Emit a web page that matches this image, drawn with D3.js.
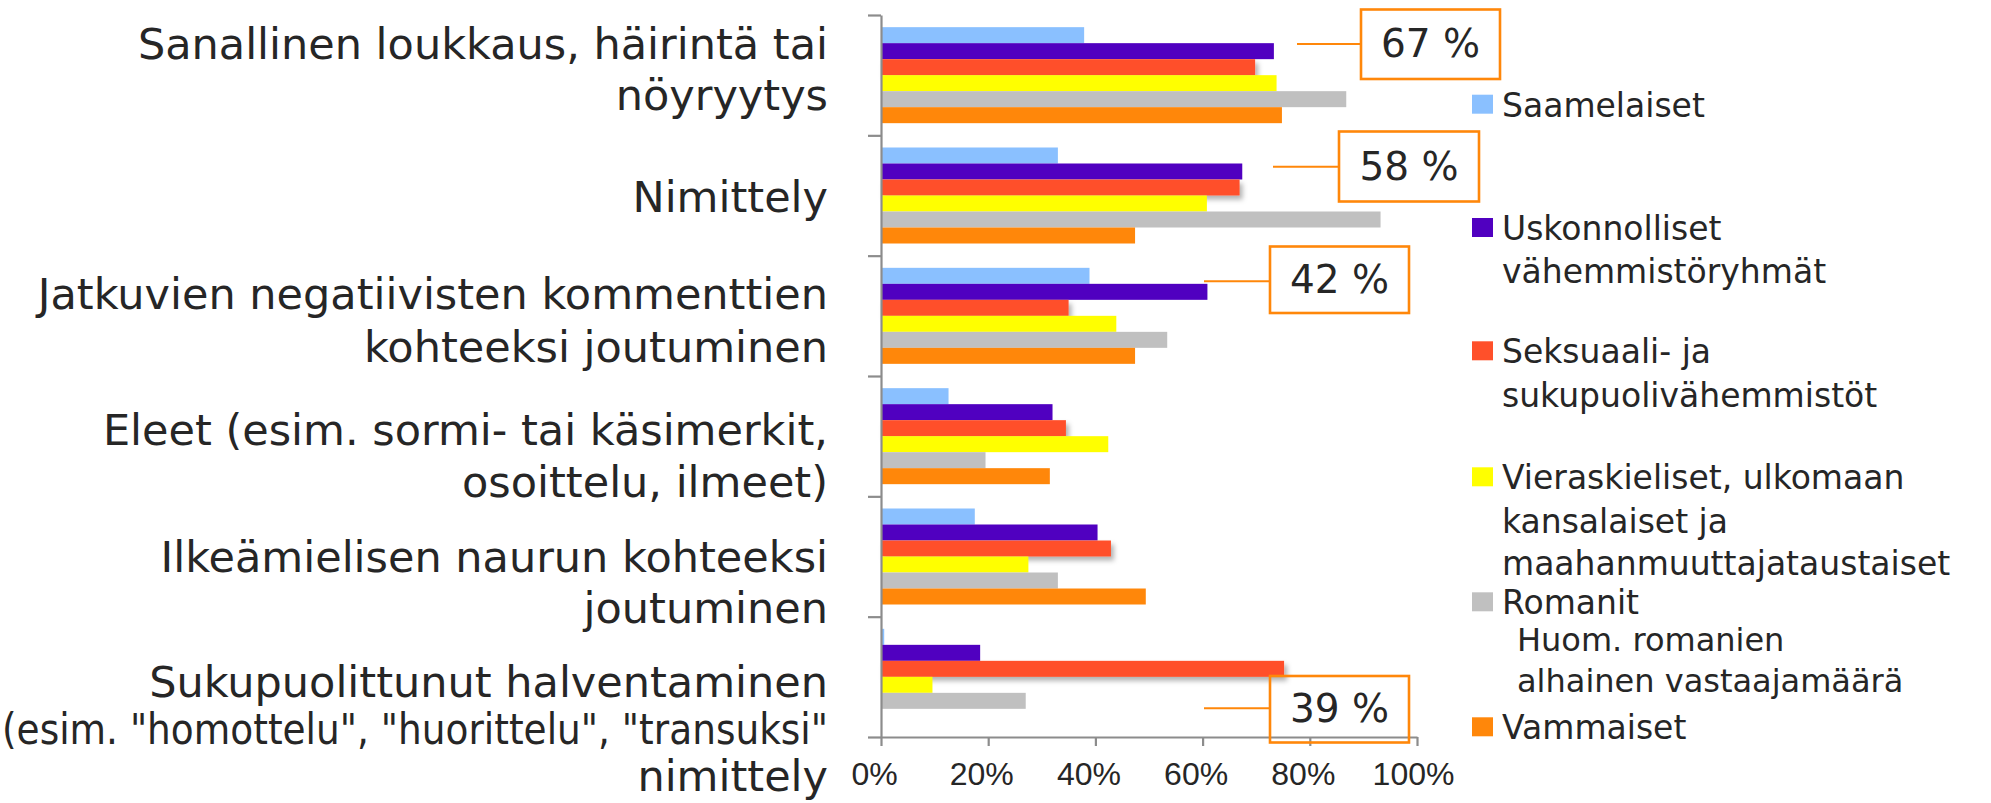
<!DOCTYPE html>
<html>
<head>
<meta charset="utf-8">
<script src="https://cdn.jsdelivr.net/npm/d3@7/dist/d3.min.js"></script>
<style>
html,body{margin:0;padding:0;background:#ffffff;}
svg{display:block;}
</style>
</head>
<body>
<svg id="chart" width="1991" height="803"></svg>
<script>
// ---------------- DATA ----------------
const categories = [
  "Sanallinen loukkaus, häirintä tai\nnöyryytys",
  "Nimittely",
  "Jatkuvien negatiivisten kommenttien\nkohteeksi joutuminen",
  "Eleet (esim. sormi- tai käsimerkit,\nosoittelu, ilmeet)",
  "Ilkeämielisen naurun kohteeksi\njoutuminen",
  "Sukupuolittunut halventaminen\n(esim. \"homottelu\", \"huorittelu\", \"transuksi\"\nnimittely"
];
const seriesNames = [
  "Saamelaiset",
  "Uskonnolliset vähemmistöryhmät",
  "Seksuaali- ja sukupuolivähemmistöt",
  "Vieraskieliset, ulkomaan kansalaiset ja maahanmuuttajataustaiset",
  "Romanit",
  "Vammaiset"
];
const legendLines = [
  ["Saamelaiset"],
  ["Uskonnolliset", "vähemmistöryhmät"],
  ["Seksuaali- ja", "sukupuolivähemmistöt"],
  ["Vieraskieliset, ulkomaan", "kansalaiset ja", "maahanmuuttajataustaiset"],
  ["Romanit"],
  ["Vammaiset"]
];
const romaniNote = ["Huom. romanien", "alhainen vastaajamäärä"];
const saamelaiset    = [37.9, 33.0, 38.9, 12.6, 17.5, 0.6];
const uskonnolliset  = [73.3, 67.4, 60.9, 32.0, 40.4, 18.5];
const seksuaali      = [69.8, 66.9, 35.0, 34.5, 42.9, 75.2];
const vieraskieliset = [73.8, 60.8, 43.9, 42.4, 27.5, 9.6];
const romanit        = [86.8, 93.2, 53.4, 19.5, 33.0, 27.0];
const vammaiset      = [74.8, 47.4, 47.4, 31.5, 49.4, null];
const xTicks = [0, 20, 40, 60, 80, 100];
const xTickLabels = ["0%", "20%", "40%", "60%", "80%", "100%"];
const calloutLabels = ["67 %", "58 %", "42 %", "39 %"];

// ---------------- STYLE / LAYOUT ----------------
const colors = ["#8AC0FF", "#5000C0", "#FF502A", "#FFFF00", "#C0C0C0", "#FF870A"];
const seriesValues = [saamelaiset, uskonnolliset, seksuaali, vieraskieliset, romanit, vammaiset];
const plot = {left: 881, right: 1417, top: 15, bottom: 737};
const textColor = "#262626";
const axisColor = "#8c8c8c";
const labelFont = "'DejaVu Sans', sans-serif";
const labelRight = 828;
const labelBaselines = [[59, 110], [212], [308.5, 361.5], [445, 496.5], [571.5, 623], [697, 744, 791]];
const legendLayout = {sqX: 1472, textX: 1502, noteX: 1517, sqW: 21, sqH: 19,
  baselines: [[116.7], [240, 283.3], [363.3, 406.6], [489.3, 532.7, 575], [614.3], [739.3]],
  noteBaselines: [650.7, 691.7]};
const calloutLayout = [
  {x1: 1297, left: 1361, right: 1500, top: 9.5, bottom: 79, ly: 44},
  {x1: 1273, left: 1339, right: 1479, top: 131.5, bottom: 201.5, ly: 166.7},
  {x1: 1204, left: 1270, right: 1409, top: 246.5, bottom: 313, ly: 281.3},
  {x1: 1204, left: 1270, right: 1409, top: 676, bottom: 742.5, ly: 708.3}
];

// ---------------- CHART ----------------
const svg = d3.select("#chart");
const defs = svg.append("defs");
const f = defs.append("filter").attr("id", "shadow").attr("x", "-5%").attr("y", "-30%").attr("width", "115%").attr("height", "190%");
f.append("feDropShadow").attr("dx", 3).attr("dy", 4).attr("stdDeviation", 2.5)
  .attr("flood-color", "#000").attr("flood-opacity", 0.3);

const x = d3.scaleLinear().domain([0, 100]).range([plot.left, plot.right]);
const y = d3.scaleBand().domain(d3.range(categories.length)).range([plot.top, plot.bottom]).padding(0);
const yInner = d3.scaleBand().domain(d3.range(seriesNames.length)).range([0, y.bandwidth()]).paddingInner(0).paddingOuter(0.76);
const yBound = d3.scaleLinear().domain([0, categories.length]).range([plot.top, plot.bottom]);

// bars
const groups = svg.append("g").selectAll("g.series")
  .data(seriesNames.map((n, i) => ({name: n, i: i, values: seriesValues[i]})))
  .join("g")
  .attr("class", "series")
  .attr("fill", d => colors[d.i])
  .attr("filter", d => d.i === 2 ? "url(#shadow)" : null);

groups.selectAll("rect")
  .data(d => d.values.map((v, c) => ({v: v, c: c, s: d.i})).filter(e => e.v != null))
  .join("rect")
  .attr("x", x(0))
  .attr("y", d => y(d.c) + yInner(d.s))
  .attr("width", d => x(d.v) - x(0))
  .attr("height", yInner.bandwidth());

// y axis (category boundaries)
const yAxis = svg.append("g")
  .attr("transform", `translate(${plot.left},0)`)
  .call(d3.axisLeft(yBound).tickValues(d3.range(categories.length + 1)).tickSize(13).tickSizeOuter(0).tickFormat(""));
yAxis.selectAll("path,line").attr("stroke", axisColor).attr("stroke-width", 2.2);

// x axis
const xAxis = svg.append("g")
  .attr("transform", `translate(0,${plot.bottom})`)
  .call(d3.axisBottom(x).tickValues(xTicks).tickSize(9).tickSizeOuter(0)
    .tickFormat((d, i) => xTickLabels[i]));
xAxis.selectAll("path,line").attr("stroke", axisColor).attr("stroke-width", 2.2);
xAxis.selectAll("text")
  .attr("y", 48).attr("dy", 0)
  .attr("dx", (d, i) => i === xTicks.length - 1 ? -4 : -7)
  .attr("fill", textColor)
  .style("font-family", "'Liberation Sans', Arial, sans-serif")
  .style("font-size", "32px");

// category labels
const labelG = svg.append("g")
  .style("font-family", labelFont).style("font-size", "43px").attr("fill", textColor)
  .attr("text-anchor", "end");
categories.forEach((cat, ci) => {
  cat.split("\n").forEach((line, li) => {
    const t = labelG.append("text")
      .attr("x", labelRight)
      .attr("y", labelBaselines[ci][li])
      .text(line);
    const w = t.node().getComputedTextLength();
    if (w > labelRight - 2) {
      t.attr("textLength", labelRight - 2).attr("lengthAdjust", "spacingAndGlyphs");
    }
  });
});

// callouts
const cg = svg.append("g");
calloutLayout.forEach((c, i) => {
  cg.append("line").attr("x1", c.x1).attr("x2", c.left).attr("y1", c.ly).attr("y2", c.ly)
    .attr("stroke", "#FF870A").attr("stroke-width", 2);
  cg.append("rect").attr("x", c.left).attr("y", c.top)
    .attr("width", c.right - c.left).attr("height", c.bottom - c.top)
    .attr("fill", "none").attr("stroke", "#FF870A").attr("stroke-width", 2.6);
  cg.append("text").attr("x", (c.left + c.right) / 2).attr("y", (c.top + c.bottom) / 2 + 13)
    .attr("text-anchor", "middle").attr("fill", textColor)
    .style("font-family", labelFont).style("font-size", "39px")
    .text(calloutLabels[i]);
});

// legend
const lg = svg.append("g").style("font-family", labelFont).attr("fill", textColor);
seriesNames.forEach((name, i) => {
  const bl = legendLayout.baselines[i];
  lg.append("rect").attr("x", legendLayout.sqX).attr("y", bl[0] - 22)
    .attr("width", legendLayout.sqW).attr("height", legendLayout.sqH).attr("fill", colors[i]);
  legendLines[i].forEach((line, li) => {
    lg.append("text").attr("x", legendLayout.textX).attr("y", bl[li])
      .style("font-size", "33px").text(line);
  });
});
romaniNote.forEach((line, li) => {
  lg.append("text").attr("x", legendLayout.noteX).attr("y", legendLayout.noteBaselines[li])
    .style("font-size", "32px").text(line);
});
</script>
</body>
</html>
